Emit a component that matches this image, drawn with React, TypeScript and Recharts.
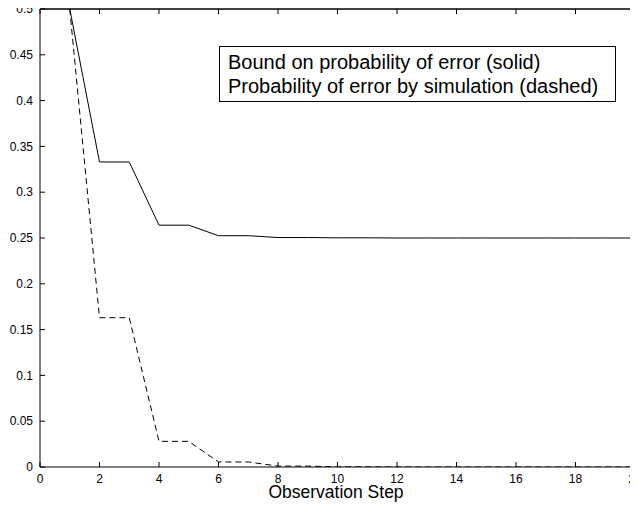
import { Line, LineChart, ReferenceLine, XAxis, YAxis } from 'recharts';

const steps = [1, 2, 3, 4, 5, 6, 7, 8, 9, 10, 11, 12, 13, 14, 15, 16, 17, 18, 19, 20];
const boundValues = [
  0.5, 0.333, 0.333, 0.264, 0.264, 0.2525, 0.2525, 0.2505, 0.2505, 0.2502,
  0.2502, 0.25, 0.25, 0.25, 0.25, 0.25, 0.25, 0.25, 0.25, 0.25
];
const simulatedValues = [
  0.5, 0.163, 0.163, 0.028, 0.028, 0.0055, 0.0055, 0.001, 0.001, 0.0002,
  0.0002, 0, 0, 0, 0, 0, 0, 0, 0, 0
];
const xTicks = [0, 2, 4, 6, 8, 10, 12, 14, 16, 18, 20];
const yTicks = [0, 0.05, 0.1, 0.15, 0.2, 0.25, 0.3, 0.35, 0.4, 0.45, 0.5];
const legendLines = ['Bound on probability of error (solid)', 'Probability of error by simulation (dashed)'];

const chartData = steps.map((step, i) => ({
  step,
  bound: boundValues[i],
  simulated: simulatedValues[i]
}));

const FONT = '"Liberation Sans", Arial, Helvetica, sans-serif';
const tickStyle = { fontSize: 12, fill: '#000', fontFamily: FONT };
const noLabel = () => '';

export default function App() {
  return (
    <div style={{ position: 'relative', width: 638, height: 506, margin: '-8px 0 0 -8px', fontFamily: FONT }}>
      <LineChart
        width={638}
        height={506}
        data={chartData}
        margin={{ top: 0, right: 0, left: 0, bottom: 0 }}
        style={{ overflow: 'visible' }}
      >
        <XAxis
          xAxisId="bottom"
          dataKey="step"
          type="number"
          domain={[0, 20]}
          ticks={xTicks}
          interval={0}
          allowDataOverflow
          height={39}
          tickSize={-5}
          tickMargin={12}
          tick={tickStyle}
          stroke="#000"
        />
        <XAxis
          xAxisId="top"
          orientation="top"
          dataKey="step"
          type="number"
          domain={[0, 20]}
          ticks={xTicks}
          interval={0}
          allowDataOverflow
          height={9}
          tickSize={-5}
          tickFormatter={noLabel}
          tick={tickStyle}
          stroke="#000"
        />
        <YAxis
          yAxisId="left"
          type="number"
          domain={[0, 0.5]}
          ticks={yTicks}
          interval={0}
          allowDataOverflow
          width={40}
          tickSize={-5}
          tickMargin={12}
          tick={tickStyle}
          stroke="#000"
        />
        <YAxis
          yAxisId="right"
          orientation="right"
          type="number"
          domain={[0, 0.5]}
          ticks={yTicks}
          interval={0}
          allowDataOverflow
          width={3}
          tickSize={-5}
          tickFormatter={noLabel}
          tick={tickStyle}
          stroke="#000"
        />
        <ReferenceLine xAxisId="bottom" yAxisId="left" x={20} stroke="#000" strokeWidth={1} />
        <ReferenceLine xAxisId="bottom" yAxisId="left" y={0.5} stroke="#000" strokeWidth={1} />
        <Line
          xAxisId="top"
          yAxisId="right"
          type="linear"
          dataKey="bound"
          stroke="none"
          dot={false}
          legendType="none"
          isAnimationActive={false}
        />
        <Line
          xAxisId="bottom"
          yAxisId="left"
          type="linear"
          dataKey="bound"
          stroke="#000"
          strokeWidth={1}
          dot={false}
          isAnimationActive={false}
        />
        <Line
          xAxisId="bottom"
          yAxisId="left"
          type="linear"
          dataKey="simulated"
          stroke="#000"
          strokeWidth={1}
          strokeDasharray="6 4"
          dot={false}
          isAnimationActive={false}
        />
      </LineChart>
      <div
        style={{
          position: 'absolute',
          left: 336,
          top: 484,
          transform: 'translateX(-50%)',
          fontSize: 17.5,
          lineHeight: '17px',
          whiteSpace: 'nowrap'
        }}
      >
        Observation Step
      </div>
      <div
        style={{
          position: 'absolute',
          left: 219,
          top: 46,
          width: 397,
          height: 56,
          boxSizing: 'border-box',
          border: '1px solid #000',
          background: '#fff',
          fontSize: 20,
          lineHeight: '24px',
          padding: '3px 0 0 8px',
          whiteSpace: 'nowrap'
        }}
      >
        {legendLines.map((line) => (
          <div key={line}>{line}</div>
        ))}
      </div>
    </div>
  );
}
